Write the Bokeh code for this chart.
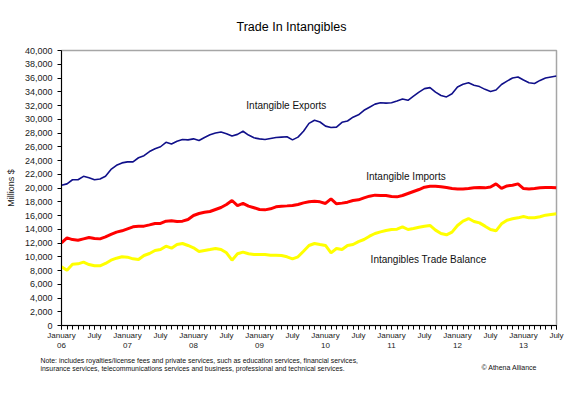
from bokeh.plotting import figure
from bokeh.models import FixedTicker, NumeralTickFormatter, Range1d, Label, Title
from bokeh.embed import file_html
from bokeh.resources import INLINE

# ---- data (monthly, January 2006 .. July 2013), millions of dollars ----
months = list(range(91))

exports = [20400, 20600, 21200, 21200, 21700, 21500, 21200, 21300, 21700, 22700, 23300, 23650,
           23800, 23800, 24400, 24700, 25300, 25700, 26000, 26650, 26400, 26800, 27050, 27000,
           27150, 26900, 27350, 27750, 28000, 28150, 27900, 27550, 27800, 28250, 27700, 27300,
           27150, 27050, 27200, 27350, 27400, 27450, 27000, 27400, 28250, 29400, 29850, 29600,
           29000, 28800, 28850, 29550, 29750, 30300, 30650, 31300, 31750, 32200, 32400, 32350,
           32400, 32650, 32950, 32750, 33350, 33950, 34450, 34600, 33950, 33450, 33250, 33700,
           34700, 35100, 35300, 34950, 34750, 34350, 34050, 34250, 35050, 35550, 36000, 36150,
           35700, 35300, 35200, 35650, 36000, 36150, 36300]

imports = [12030, 12750, 12500, 12400, 12600, 12800, 12650, 12600, 12900, 13250, 13580, 13770,
           14060, 14350, 14450, 14450, 14640, 14840, 14850, 15180, 15220, 15130, 15180, 15420,
           16000, 16290, 16480, 16580, 16870, 17160, 17600, 18180, 17450, 17750, 17360, 17120,
           16870, 16820, 16970, 17260, 17360, 17400, 17450, 17600, 17840, 17990, 18080, 17990,
           17750, 18420, 17700, 17800, 17940, 18180, 18280, 18570, 18810, 18960, 18910, 18910,
           18760, 18710, 18910, 19200, 19490, 19780, 20120, 20260, 20260, 20170, 20070, 19920,
           19870, 19870, 19920, 20020, 20070, 20020, 20150, 20600, 19950, 20300, 20400, 20600,
           19920, 19870, 19920, 20020, 20070, 20070, 20020]

balance = [8540, 8050, 8920, 8970, 9210, 8870, 8680, 8680, 9020, 9500, 9790, 9990,
           9940, 9700, 9600, 10180, 10470, 10910, 11050, 11540, 11250, 11780, 11930, 11640,
           11300, 10760, 10910, 11050, 11200, 11050, 10570, 9500, 10430, 10670, 10430, 10330,
           10330, 10330, 10230, 10230, 10180, 9990, 9700, 9990, 10810, 11640, 11930, 11780,
           11640, 10570, 11200, 11050, 11640, 11780, 12200, 12510, 12990, 13380, 13620, 13820,
           13960, 14010, 14350, 13960, 14110, 14300, 14450, 14550, 13870, 13380, 13190, 13580,
           14550, 15180, 15560, 15130, 14930, 14450, 13960, 13770, 14790, 15320, 15520, 15660,
           15850, 15660, 15660, 15810, 16050, 16150, 16250]

x_tick_pos = [0, 6, 12, 18, 24, 30, 36, 42, 48, 54, 60, 66, 72, 78, 84, 90]
x_tick_labels = ["January\n06", "July", "January\n07", "July", "January\n08", "July",
                 "January\n09", "July", "January\n10", "July", "January\n11", "July",
                 "January\n12", "July", "January\n13", "July"]
y_ticks = list(range(0, 40001, 2000))

title_text = "Trade In Intangibles"
series_names = ["Intangible Exports", "Intangible Imports", "Intangibles Trade Balance"]
note_lines = ["Note: includes royalties/license fees and private services, such as education services, financial services,",
              "insurance services, telecommunications services and business, professional and technical services."]
credit = "\u00a9 Athena Alliance"

FONT = "Liberation Sans"

p = figure(width=566, height=386, output_backend="svg", toolbar_location=None,
           x_range=Range1d(0, 90), y_range=Range1d(0, 40000),
           min_border_left=61, min_border_right=10, min_border_top=50, min_border_bottom=61)
p.background_fill_color = "white"
p.border_fill_color = "white"
p.outline_line_color = "#A6A6A6"
p.outline_line_width = 1.5
p.xgrid.visible = False
p.ygrid.visible = False

p.title = Title(text=title_text, align="left", offset=175, standoff=33,
                text_font=FONT, text_font_size="12.5px", text_font_style="normal",
                text_color="#000000")

p.line(months, exports, line_color="#10108A", line_width=1.6)
p.line(months, imports, line_color="#FF0000", line_width=3)
p.line(months, balance, line_color="#FFFF00", line_width=3)

# x axis
xa = p.xaxis[0]
xa.ticker = FixedTicker(ticks=x_tick_pos, minor_ticks=months)
xa.major_label_overrides = {t: l for t, l in zip(x_tick_pos, x_tick_labels)}
xa.major_tick_in = 0
xa.major_tick_out = 4
xa.minor_tick_in = 0
xa.minor_tick_out = 4
xa.major_label_standoff = 1
xa.major_label_text_font = FONT
xa.major_label_text_font_size = "8px"
xa.major_label_text_color = "#1a1a1a"
xa.axis_line_color = "#000000"
xa.major_tick_line_color = "#000000"
xa.minor_tick_line_color = "#000000"

# y axis
ya = p.yaxis[0]
ya.ticker = FixedTicker(ticks=y_ticks, minor_ticks=[])
ya.formatter = NumeralTickFormatter(format="0,0")
ya.major_tick_in = 0
ya.major_tick_out = 4
ya.minor_tick_line_color = None
ya.major_label_standoff = 5
ya.major_label_text_font = FONT
ya.major_label_text_font_size = "9px"
ya.major_label_text_color = "#1a1a1a"
ya.axis_line_color = "#000000"
ya.major_tick_line_color = "#000000"
ya.axis_label = "Millions $"
ya.axis_label_text_font = FONT
ya.axis_label_text_font_size = "9px"
ya.axis_label_text_font_style = "normal"
ya.axis_label_text_color = "#1a1a1a"
ya.axis_label_standoff = 6

# series labels (data coordinates)
for name, lx, ly in zip(series_names, [33.6, 55.4, 56.2], [32000, 21700, 9650]):
    p.add_layout(Label(x=lx, y=ly, text=name, text_font=FONT, text_font_size="10px",
                       text_color="#111111", text_baseline="middle", text_align="left"))

# notes below the axis
p.add_layout(Title(text="\n".join(note_lines), align="left", offset=-21, standoff=4,
                   text_font=FONT, text_font_size="6.9px", text_font_style="normal",
                   text_color="#111111", text_line_height=1.15), "below")
p.add_layout(Label(x=420, y=14, x_units="screen", y_units="screen", text=credit,
                   text_font=FONT, text_font_size="7px", text_color="#111111",
                   text_align="left", text_baseline="middle"), "below")

open("out.html", "w").write(file_html(p, INLINE))
